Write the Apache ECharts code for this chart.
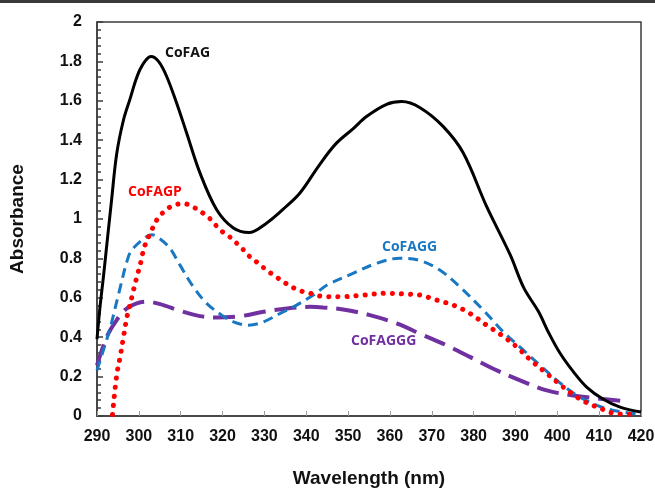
<!DOCTYPE html>
<html>
<head>
<meta charset="utf-8">
<script src="https://cdn.jsdelivr.net/npm/echarts@6/dist/echarts.min.js"></script>
<style>
	html, body { margin: 0; padding: 0; background: #fff; }
	#main { width: 655px; height: 488px; }
</style>
</head>
<body>
<div id="main"></div>
<script>
// x axis ticks
var xTicks = [290, 300, 310, 320, 330, 340, 350, 360, 370, 380, 390, 400, 410, 420];

// CoFAG (black solid)
var cofagWl = [290, 290.7, 291.5, 292.2, 293.5, 294.7, 296.3, 297.9, 299.2, 300.3, 301.6, 302.9, 304.7, 306.6, 309, 311.4, 314.6, 318.6, 322.6, 326.3, 330.5, 334.5, 338.5, 343, 347, 351.3, 354.4, 359.2, 362.8, 367.2, 372.7, 377.5, 383.1, 388.7, 392, 395.5, 398, 400.7, 404, 407, 411, 415, 420];
var cofagAbs = [0.39, 0.55, 0.70, 0.84, 1.1, 1.33, 1.5, 1.61, 1.7, 1.76, 1.805, 1.825, 1.8, 1.726, 1.59, 1.438, 1.234, 1.047, 0.954, 0.931, 0.979, 1.05, 1.132, 1.27, 1.38, 1.46, 1.52, 1.582, 1.596, 1.565, 1.47, 1.336, 1.064, 0.82, 0.65, 0.53, 0.42, 0.317, 0.22, 0.147, 0.085, 0.045, 0.02];

// CoFAGP (red dotted)
var cofagpWl = [293.7, 294.7, 295.6, 296.4, 297.2, 298.3, 299.5, 300.7, 301.2, 303.1, 304.6, 306.4, 308.2, 310.6, 313, 316.8, 319.4, 321.4, 324.6, 326.5, 328.5, 330.5, 332.5, 334.5, 336.9, 339.3, 341.7, 343.3, 348.1, 353.7, 359.2, 363.6, 367.2, 371.1, 375.5, 379.1, 383.1, 386.7, 390.3, 393.5, 397.5, 401.1, 404.7, 407.1, 411.1, 413.5, 418.3];
var cofagpAbs = [0.008, 0.206, 0.308, 0.41, 0.507, 0.602, 0.704, 0.8, 0.852, 0.945, 1.005, 1.044, 1.069, 1.078, 1.061, 1.005, 0.945, 0.915, 0.852, 0.809, 0.776, 0.741, 0.711, 0.682, 0.651, 0.631, 0.619, 0.609, 0.605, 0.614, 0.623, 0.619, 0.614, 0.589, 0.56, 0.521, 0.461, 0.41, 0.351, 0.286, 0.215, 0.152, 0.096, 0.067, 0.032, 0.014, 0.008];

// CoFAGG (blue dashed)
var cofaggWl = [290, 293.1, 295.1, 297.5, 298.7, 301.9, 303.1, 305, 307.4, 309.8, 313, 316.2, 319.8, 322.6, 326.2, 329.8, 333.8, 337.7, 341.7, 345, 351.3, 356.9, 362.4, 367.2, 371.9, 376.7, 382.3, 387.1, 391.9, 395.9, 399.9, 404.7, 409.5, 413.5, 419.1];
var cofaggAbs = [0.232, 0.444, 0.614, 0.809, 0.852, 0.911, 0.92, 0.9, 0.852, 0.767, 0.656, 0.572, 0.512, 0.478, 0.461, 0.478, 0.521, 0.563, 0.614, 0.665, 0.725, 0.776, 0.801, 0.789, 0.741, 0.656, 0.538, 0.427, 0.334, 0.257, 0.181, 0.104, 0.054, 0.028, 0.011];

// CoFAGGG (purple long dash)
var cofagggWl = [290, 292.3, 294.7, 297.1, 299.5, 301.9, 305.1, 309.8, 314.6, 318.6, 324.3, 329.8, 335.4, 341, 344, 348.8, 355.2, 361.6, 368, 373.5, 379.1, 384.7, 391.1, 397.5, 403.8, 410.2, 416.5];
var cofagggAbs = [0.257, 0.4, 0.487, 0.546, 0.572, 0.58, 0.568, 0.534, 0.507, 0.5, 0.507, 0.529, 0.546, 0.554, 0.551, 0.541, 0.512, 0.47, 0.41, 0.359, 0.3, 0.24, 0.181, 0.13, 0.104, 0.088, 0.074];

function pairs(xs, ys) {
	var out = [];
	for (var i = 0; i < xs.length; i++) {
		out.push([xs[i], ys[i]]);
	}
	return out;
}

var axisFont = 'Liberation Sans, Arial, sans-serif';
var labelFont = 'Open Sans, Noto Sans, sans-serif';

var chart = echarts.init(document.getElementById('main'));
chart.setOption({
	backgroundColor: '#fff',
	animation: false,
	grid: {
		left: 97,
		right: 14,
		top: 22,
		bottom: 72,
		outerBoundsMode: 'none',
		containLabel: false,
		show: true,
		borderColor: '#3c3c3c',
		borderWidth: 1.5,
		backgroundColor: 'transparent'
	},
	xAxis: {
		type: 'value',
		min: xTicks[0],
		max: xTicks[xTicks.length - 1],
		interval: 10,
		name: 'Wavelength (nm)',
		nameLocation: 'middle',
		nameGap: 53,
		nameTextStyle: { fontFamily: axisFont, fontWeight: 'bold', fontSize: 19, color: '#111' },
		axisLine: { lineStyle: { color: '#3c3c3c', width: 1.5 } },
		axisTick: { inside: true, length: 5, lineStyle: { color: '#999', width: 1 } },
		axisLabel: { fontFamily: axisFont, fontWeight: 'bold', fontSize: 16, color: '#111', margin: 13 },
		splitLine: { show: false }
	},
	yAxis: {
		type: 'value',
		min: 0,
		max: 2,
		interval: 0.2,
		name: 'Absorbance',
		nameLocation: 'middle',
		nameGap: 70,
		nameTextStyle: { fontFamily: axisFont, fontWeight: 'bold', fontSize: 19, color: '#111' },
		axisLine: { show: true, lineStyle: { color: '#3c3c3c', width: 1.5 } },
		axisTick: { inside: true, length: 6, lineStyle: { color: '#3c3c3c', width: 1.5 } },
		minorTick: { show: true, splitNumber: 5, length: 4, lineStyle: { color: '#3c3c3c', width: 1.5 } },
		axisLabel: {
			fontFamily: axisFont, fontWeight: 'bold', fontSize: 16, color: '#111', margin: 15,
			formatter: function(v) { return String(Math.round(v * 10) / 10); }
		},
		splitLine: { show: false }
	},
	graphic: [{
		type: 'rect',
		shape: { x: 0, y: 0, width: 655, height: 3 },
		style: { fill: '#3a3a3a' }
	}, {
		type: 'text', left: 165, top: 46,
		style: { text: 'CoFAG', fill: '#111', font: 'bold 14px ' + labelFont }
	}, {
		type: 'text', left: 128, top: 185,
		style: { text: 'CoFAGP', fill: '#ff0000', font: 'bold 14px ' + labelFont }
	}, {
		type: 'text', left: 382, top: 240,
		style: { text: 'CoFAGG', fill: '#1a78c2', font: 'bold 14px ' + labelFont }
	}, {
		type: 'text', left: 351, top: 334,
		style: { text: 'CoFAGGG', fill: '#7030a0', font: 'bold 14px ' + labelFont }
	}],
	series: [{
		name: 'CoFAGGG',
		type: 'line',
		smooth: 0.35,
		showSymbol: false,
		data: pairs(cofagggWl, cofagggAbs),
		lineStyle: { color: '#7030a0', width: 4, type: [22, 9] }
	}, {
		name: 'CoFAGG',
		type: 'line',
		smooth: 0.35,
		showSymbol: false,
		data: pairs(cofaggWl, cofaggAbs),
		lineStyle: { color: '#1a78c2', width: 3, type: [10, 6] }
	}, {
		name: 'CoFAGP',
		type: 'line',
		smooth: 0.35,
		showSymbol: false,
		data: pairs(cofagpWl, cofagpAbs),
		lineStyle: { color: '#ff0000', width: 5, type: [0.1, 9], cap: 'round' }
	}, {
		name: 'CoFAG',
		type: 'line',
		smooth: 0.35,
		showSymbol: false,
		data: pairs(cofagWl, cofagAbs),
		lineStyle: { color: '#000', width: 3 }
	}]
});
</script>
</body>
</html>
